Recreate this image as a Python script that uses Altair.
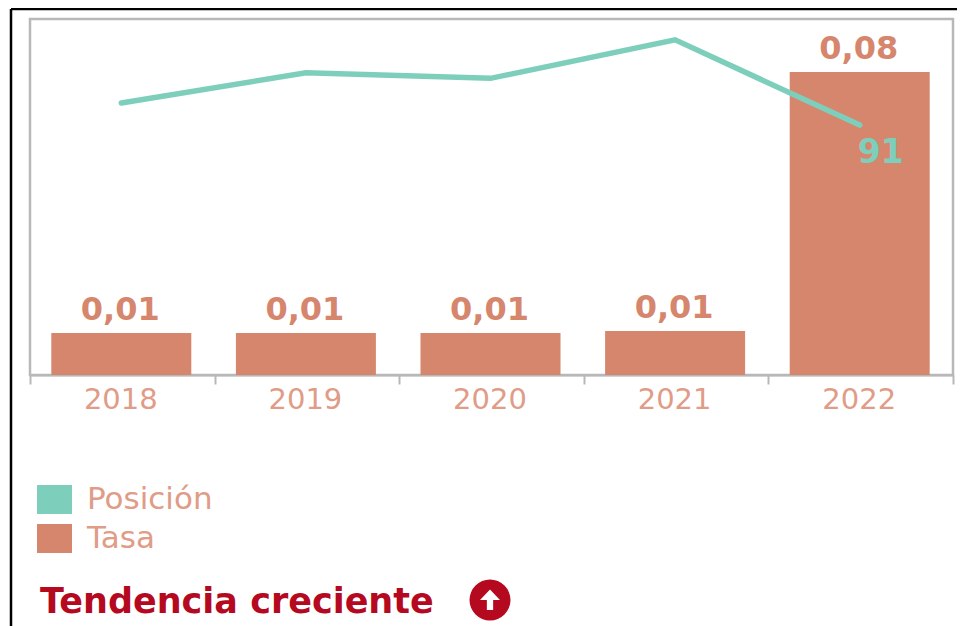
import altair as alt
import pandas as pd

years = ["2018", "2019", "2020", "2021", "2022"]
tasa = [0.0111, 0.0111, 0.0111, 0.0116, 0.08]
tasa_labels = ["0,01", "0,01", "0,01", "0,01", "0,08"]
posicion = [99, 110, 108, 122, 91]
series = ["Posición", "Tasa"]
colors = ["#7dcfbc", "#d6866d"]
summary = ["Tendencia creciente"]

FONT = "DejaVu Sans"
LABEL = "#e09c87"
RED = "#b5091f"
FRAME = "#b8b8b8"

df = pd.DataFrame({"year": years, "tasa": tasa, "label": tasa_labels, "pos": posicion,
                   "s_tasa": series[1], "s_pos": series[0]})
last = df[df.year == "2022"]
one = pd.DataFrame({"t": summary})

x = alt.X("year:N", title=None, sort=years,
          scale=alt.Scale(paddingInner=0, paddingOuter=0),
          axis=alt.Axis(labelAngle=0, labelFont=FONT, labelFontSize=29, labelColor=LABEL,
                        labelPadding=1, labelOffset=-2, tickBand="extent", tickSize=9, tickWidth=2,
                        tickColor=FRAME, domainColor=FRAME, domainWidth=2, grid=False))
color_scale = alt.Scale(domain=series, range=colors)
legend = alt.Legend(orient="none", legendX=7, legendY=463, title=None,
                    symbolType="M-1,-0.83 H1 V0.83 H-1 Z",
                    symbolSize=1225, symbolStrokeWidth=0, labelFont=FONT, labelFontSize=31,
                    labelColor=LABEL, rowPadding=6, labelOffset=15, symbolOpacity=1)
y_bar = alt.Y("tasa:Q", axis=None, scale=alt.Scale(domain=[0, 0.094], nice=False))
y_pos = alt.Y("pos:Q", axis=None, scale=alt.Scale(domain=[0, 129.6], nice=False))

bars = alt.Chart(df).mark_bar(width=140, xOffset=-1).encode(
    x=x, y=y_bar, color=alt.Color("s_tasa:N", scale=color_scale, legend=legend))
bar_text = alt.Chart(df).mark_text(font=FONT, fontWeight="bold", fontSize=32, color="#d6866d",
                                   baseline="alphabetic", dy=-13, dx=-2).encode(
    x=alt.X("year:N", sort=years), y=y_bar, text="label:N")
line = alt.Chart(df).mark_line(strokeWidth=5.5, strokeCap="round", xOffset=-1).encode(
    x=alt.X("year:N", sort=years), y=y_pos,
    color=alt.Color("s_pos:N", scale=color_scale, legend=legend))
line_text = alt.Chart(last).mark_text(font=FONT, fontWeight="bold", fontSize=33, color=colors[0],
                                      baseline="alphabetic", dx=20, dy=38).encode(
    x=alt.X("year:N", sort=years), y=y_pos, text="pos:Q")

frame_top = alt.Chart(one).mark_rule(color="black", strokeWidth=2.5).encode(
    x=alt.value(-19), x2=alt.value(950), y=alt.value(-10))
frame_left = alt.Chart(one).mark_rule(color="black", strokeWidth=2.5).encode(
    x=alt.value(-19), y=alt.value(-10), y2=alt.value(610))
note = alt.Chart(one).mark_text(font=FONT, fontWeight="bold", fontSize=35, color=RED,
                                align="left", baseline="alphabetic").encode(
    x=alt.value(10), y=alt.value(594), text="t:N")
circle = alt.Chart(one).mark_point(filled=True, color=RED, opacity=1, size=1680, shape="circle").encode(
    x=alt.value(460), y=alt.value(581))
arrow = alt.Chart(one).mark_point(filled=True, color="white", opacity=1, size=440,
                                  shape="M0,-1 L0.95,0 L0.3,0 L0.3,0.95 L-0.3,0.95 L-0.3,0 L-0.95,0 Z").encode(
    x=alt.value(460), y=alt.value(581))

chart = alt.layer(bars, bar_text, line, line_text, frame_top, frame_left, note, circle, arrow).resolve_scale(
    y="independent"
).properties(
    width=923, height=356, background="white",
    padding={"left": 22, "top": 11, "right": 4, "bottom": 251},
    autosize=alt.AutoSizeParams(type="none", contains="content"),
).configure_view(stroke=FRAME, strokeWidth=2.5)

chart.save("out.html", embed_options={"renderer": "svg", "actions": False})
